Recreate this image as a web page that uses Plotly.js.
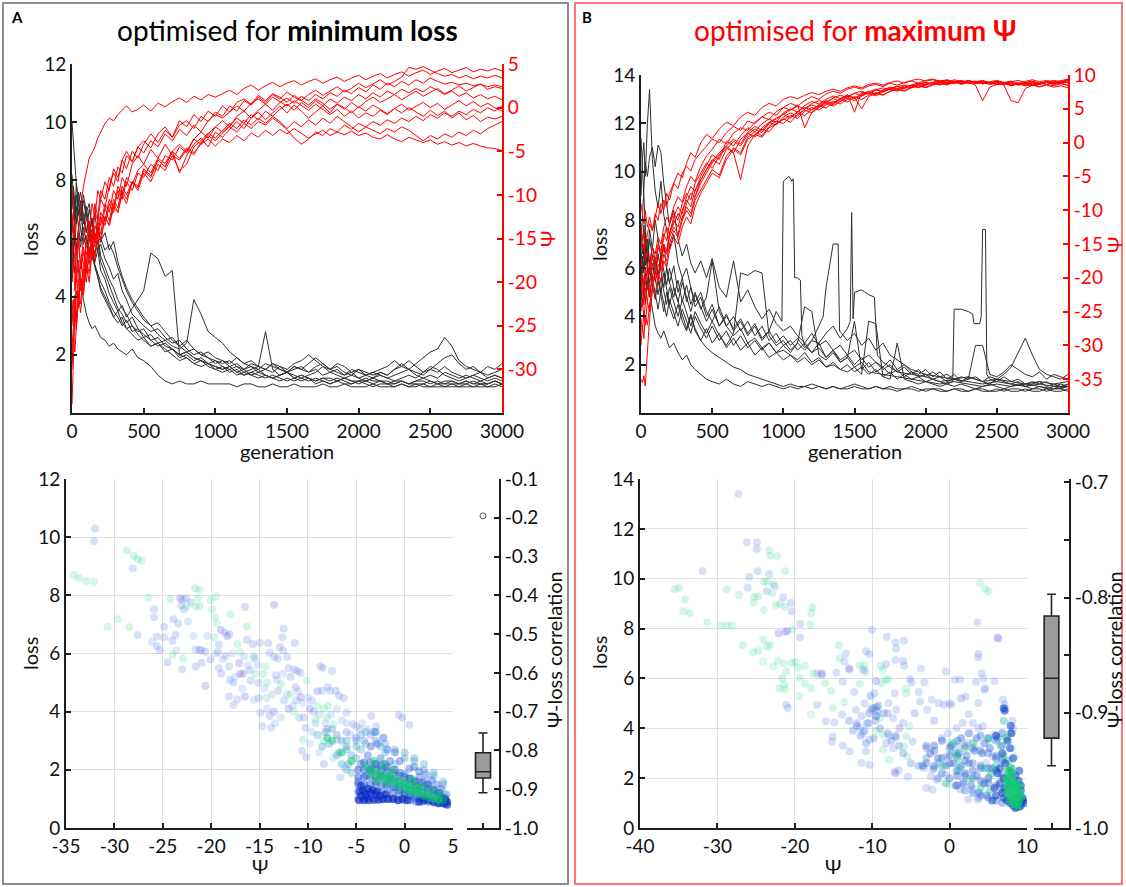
<!DOCTYPE html>
<html><head><meta charset="utf-8">
<script src="https://cdn.plot.ly/plotly-3.0.1.min.js"></script>
<style>html,body{margin:0;padding:0;background:#fff;}#chart{width:1126px;height:887px;}</style>
</head><body><div id="chart"></div>
<script>
// ---------------- DATA ----------------
const GEN = [0,10,20,30,45,60,80,100,120,140,160,180,200,230,260,290,320,350,380,420,460,500,550,600,650,700,750,800,850,900,950,1000,
 1050,1100,1150,1200,1250,1300,1350,1400,1450,1500,1550,1600,1650,1700,1750,1800,1850,1900,1950,2000,2050,2100,2150,2200,2250,2300,2350,2400,2450,2500,2550,2600,2650,2700,2750,2800,2850,2900,2950,3000];

// Panel A: loss per run (optimised for minimum loss)
const lossA1 = [10.0,9.2,8.5,7.9,7.2,7.6,6.8,6.2,6.6,5.8,5.5,5.9,5.2,4.8,4.4,4.0,3.6,3.4,3.1,3.3,2.9,2.7,2.5,2.6,2.3,2.2,2.0,2.1,1.9,1.8,1.7,1.6,
 1.5,1.6,1.4,1.3,1.4,1.3,1.2,1.3,1.2,1.1,1.2,1.1,1.2,1.0,1.1,1.0,1.1,1.0,1.0,1.1,1.0,0.9,1.0,1.0,0.9,1.0,0.9,1.0,0.9,0.9,1.0,0.9,0.9,0.9,1.0,0.9,0.9,0.9,1.0,0.9];
const lossA2 = [8.2,7.5,6.4,5.6,4.9,4.4,3.9,3.4,3.1,2.9,3.0,2.8,2.6,2.5,2.3,2.4,2.2,2.1,2.0,2.2,1.9,1.8,1.6,1.3,1.1,1.0,1.1,1.0,1.0,1.1,1.0,1.0,
 1.0,1.0,0.9,1.0,1.0,0.9,0.9,1.0,0.9,0.9,1.0,0.9,0.9,0.9,1.0,0.9,0.9,1.0,0.9,0.9,0.9,1.0,0.9,0.9,0.9,1.0,0.9,0.9,1.0,0.9,0.9,0.9,1.0,0.9,0.9,0.9,1.0,0.9,0.9,1.0];
const lossA3 = [6.2,6.8,7.4,6.9,7.6,7.1,6.5,6.9,6.2,5.7,5.2,5.6,4.9,4.6,4.1,3.8,3.5,3.7,3.3,3.6,3.9,4.2,5.5,5.3,4.7,4.9,2.0,1.9,1.7,1.8,1.6,1.5,
 1.6,1.4,1.5,1.3,1.4,1.5,1.3,1.2,1.3,1.4,1.2,1.3,1.2,1.1,1.2,1.2,1.1,1.2,1.1,1.1,1.2,1.1,1.1,1.0,1.1,1.1,1.0,1.1,1.1,1.0,1.1,1.0,1.1,1.0,1.0,1.1,1.0,1.0,1.1,1.0];
const lossA4 = [7.0,7.8,7.2,6.5,7.0,6.3,5.8,6.1,5.5,5.9,5.1,4.8,4.5,4.2,3.8,3.5,3.3,3.0,3.2,2.8,2.9,2.6,2.7,2.4,2.5,2.3,2.2,2.4,3.9,3.4,2.8,2.6,
 2.4,2.1,1.9,1.7,1.8,1.6,1.5,1.7,1.6,1.4,1.5,1.6,1.4,1.5,1.3,1.4,1.5,1.3,1.4,1.2,1.3,1.4,1.3,1.2,1.3,1.4,1.5,1.3,1.2,1.3,1.2,1.4,1.3,1.2,1.3,1.2,1.1,1.2,1.3,1.2];
const lossA5 = [5.5,6.2,5.8,6.6,7.3,6.8,7.5,6.9,7.2,6.4,6.8,6.0,5.4,5.0,4.6,4.3,3.9,3.6,3.4,3.0,2.8,2.9,2.5,2.3,2.4,2.2,2.0,2.1,1.9,1.8,1.7,1.8,
 1.6,1.5,1.6,1.4,1.5,1.6,2.8,1.5,1.3,1.4,1.2,1.3,1.2,1.1,1.2,1.1,1.2,1.1,1.0,1.1,1.1,1.0,1.1,1.0,1.0,1.1,1.0,1.0,1.0,1.1,1.0,1.0,1.0,1.0,1.1,1.0,1.0,1.0,1.1,1.0];
const lossA6 = [6.8,6.1,6.9,7.5,6.8,7.3,6.6,7.1,6.3,6.6,5.9,6.3,6.0,5.6,5.8,5.5,5.0,4.6,4.2,3.8,3.5,3.2,3.0,2.7,2.5,2.6,2.3,2.1,2.2,2.0,1.9,1.8,
 1.7,1.8,1.6,1.5,1.7,1.6,1.5,1.4,1.6,1.5,1.7,1.8,2.0,1.8,1.6,1.5,1.7,1.6,1.4,1.5,1.3,1.4,1.5,1.6,1.8,1.6,1.5,1.7,1.9,2.1,2.2,2.6,2.3,1.8,1.6,1.5,1.4,1.6,1.5,1.7];
const lossA7 = [4.5,5.3,6.1,5.6,6.4,5.9,6.7,6.2,7.0,6.5,6.1,5.6,5.8,5.3,5.0,4.6,4.8,4.2,3.9,3.4,3.2,3.0,2.8,2.9,2.6,2.4,2.5,2.2,2.0,2.1,1.9,1.7,
 1.8,1.6,1.7,1.5,1.6,1.4,1.5,1.7,1.5,1.4,1.6,1.5,1.7,1.9,1.7,1.5,1.6,1.4,1.3,1.5,1.4,1.3,1.4,1.3,1.5,1.6,1.8,1.6,1.4,1.5,1.7,1.9,2.0,1.7,1.5,1.6,1.4,1.3,1.4,1.5];
const lossA8 = [7.5,7.0,6.6,7.1,6.4,6.9,6.1,5.7,6.2,5.4,5.0,4.6,4.3,4.0,3.7,3.3,3.1,3.3,2.9,2.7,2.5,2.6,2.3,2.4,2.1,2.2,1.9,2.0,1.8,1.9,1.7,1.6,
 1.5,1.6,1.4,1.5,1.3,1.4,1.3,1.2,1.3,1.4,1.3,1.2,1.3,1.4,1.6,1.4,1.3,1.2,1.3,1.2,1.1,1.2,1.3,1.2,1.1,1.2,1.3,1.2,1.4,1.6,1.5,1.3,1.2,1.1,1.2,1.3,1.2,1.1,1.2,1.1];
const lossA9 = [5.0,5.8,6.5,7.9,7.2,6.6,7.3,6.8,6.2,6.7,6.0,6.4,5.9,6.2,5.6,5.9,5.2,4.7,4.3,3.9,3.6,3.3,3.0,3.1,2.8,2.5,2.3,2.5,2.2,2.0,2.1,1.9,
 1.8,1.7,1.9,1.7,1.6,1.5,1.7,1.6,1.5,1.4,1.6,1.5,1.4,1.6,1.7,1.5,1.4,1.3,1.5,1.4,1.3,1.2,1.4,1.3,1.5,1.7,1.5,1.4,1.3,1.5,1.4,1.6,1.4,1.3,1.2,1.3,1.4,1.2,1.3,1.2];
const lossA10 = [6.0,5.4,4.8,5.5,6.2,5.7,6.4,5.9,5.3,5.7,5.0,4.7,4.2,3.9,3.6,3.3,3.5,3.1,2.9,3.0,2.7,2.5,2.3,2.4,2.2,2.0,1.8,1.9,1.7,1.6,1.7,1.5,
 1.4,1.5,1.3,1.4,1.3,1.2,1.3,1.2,1.1,1.2,1.1,1.2,1.1,1.2,1.1,1.0,1.1,1.2,1.1,1.0,1.1,1.2,1.1,1.1,1.0,1.1,1.0,1.1,1.2,1.1,1.0,1.1,1.1,1.0,1.1,1.0,1.1,1.0,1.1,1.0];

// Panel A: Psi per run
const psiA1 = [-34.0,-29.0,-24.0,-19.0,-14.5,-11.5,-9.0,-7.2,-5.8,-5.2,-4.5,-3.5,-2.8,-1.8,-1.2,-1.5,-0.8,-0.3,0.2,-0.5,-0.2,0.3,-0.4,0.5,0.1,0.7,1.1,0.6,1.3,0.9,1.5,1.2,
 1.6,2.0,1.5,2.2,2.6,2.0,2.5,2.9,2.4,2.8,3.1,2.6,3.0,3.3,2.8,3.2,3.5,3.0,3.4,3.7,3.2,3.6,3.9,3.4,3.8,4.1,3.6,4.0,4.3,3.8,4.2,4.5,4.0,4.3,4.6,4.1,4.4,4.2,4.5,4.2];
const psiA2 = [-9.0,-12.0,-14.5,-17.0,-15.5,-18.5,-16.0,-19.0,-14.0,-15.5,-12.0,-13.0,-10.5,-11.5,-9.0,-7.5,-8.5,-6.0,-5.0,-6.2,-4.5,-3.8,-4.6,-3.0,-2.2,-3.4,-2.0,-1.5,-2.4,-1.0,-1.6,-0.5,
 -1.0,0.2,-0.4,0.8,0.3,1.2,0.6,1.5,1.0,1.8,1.2,0.8,1.5,2.0,1.4,1.9,2.4,1.8,2.2,2.8,2.3,2.7,3.2,2.6,3.0,3.5,4.6,4.4,4.7,4.3,3.9,3.6,3.8,3.4,3.7,3.3,3.6,3.4,3.7,3.4];
const psiA3 = [-20.0,-17.5,-21.0,-18.5,-22.0,-19.0,-16.5,-18.0,-15.0,-16.5,-13.5,-14.5,-12.0,-13.0,-10.5,-11.5,-9.0,-10.0,-8.0,-8.8,-7.2,-6.5,-7.5,-5.8,-6.4,-5.0,-5.8,-4.6,-5.2,-4.2,-3.6,-4.4,
 -3.6,-4.0,-3.2,-3.8,-2.9,-3.4,-2.6,-3.2,-2.5,-3.0,-2.4,-2.9,-3.5,-3.0,-2.6,-3.2,-2.8,-3.1,-2.7,-3.2,-2.9,-3.4,-3.6,-3.1,-3.6,-3.9,-3.4,-3.7,-4.0,-3.7,-4.2,-3.9,-4.3,-4.0,-4.4,-4.1,-4.4,-4.6,-4.7,-4.9];
const psiA4 = [-27.5,-25.0,-22.5,-24.0,-20.0,-17.5,-19.5,-15.5,-13.0,-14.5,-11.0,-12.5,-9.5,-10.5,-8.0,-9.0,-6.8,-7.5,-5.5,-6.2,-4.5,-5.2,-3.8,-4.5,-3.0,-3.8,-2.5,-3.2,-2.0,-2.8,-1.5,-0.8,
 -1.2,-0.5,0.2,-0.4,0.5,1.0,0.4,1.2,0.7,0.2,0.8,0.3,-0.3,0.4,-0.2,-0.8,-0.2,-1.0,-0.4,-1.2,-0.6,-1.0,-0.3,-0.8,-0.1,0.4,-0.3,0.2,0.6,0.0,0.5,-0.2,0.3,0.8,0.2,0.7,0.1,0.5,0.0,-0.4];
const psiA5 = [-15.0,-18.5,-16.5,-20.0,-17.5,-21.0,-18.0,-15.5,-17.0,-14.0,-15.5,-13.0,-14.5,-11.5,-13.0,-10.5,-11.5,-9.0,-10.0,-8.5,-9.2,-7.0,-7.8,-6.0,-6.8,-5.0,-7.5,-5.5,-4.2,-3.5,-4.5,-2.8,
 -3.4,-2.5,-1.6,-2.4,-1.2,-0.5,-1.4,-0.6,0.2,-0.6,0.3,-0.4,-1.2,-0.5,0.2,-0.6,0.4,-0.2,0.6,0.0,0.7,1.2,0.6,1.0,1.5,0.9,1.4,1.9,1.3,1.8,2.2,1.6,2.0,2.5,1.9,2.3,2.7,2.1,2.4,2.2];
const psiA6 = [-25.0,-22.0,-24.5,-21.0,-23.0,-19.5,-21.5,-18.0,-20.0,-16.5,-17.5,-14.5,-15.5,-12.5,-13.5,-11.0,-12.0,-9.5,-10.5,-8.5,-9.0,-7.2,-8.0,-6.0,-6.8,-5.0,-4.2,-5.0,-3.6,-2.8,-3.5,-2.2,
 -1.5,-2.2,-1.0,-0.4,-1.2,-0.3,0.4,-0.3,0.6,1.1,0.5,1.3,0.8,1.5,1.0,1.7,1.3,2.0,1.6,2.3,1.8,2.6,2.1,2.8,2.4,3.0,2.6,3.2,2.8,3.4,3.0,2.7,2.9,2.6,2.8,2.5,2.7,2.4,2.6,2.4];
const psiA7 = [-12.0,-15.0,-13.0,-17.0,-14.5,-18.0,-15.0,-12.5,-14.0,-11.0,-12.5,-9.5,-10.5,-8.5,-9.5,-7.0,-8.0,-6.0,-7.0,-5.0,-5.8,-4.2,-3.0,-4.0,-2.6,-3.4,-1.5,-2.2,-0.8,-1.6,-0.4,-1.0,
 0.2,-0.5,0.6,1.0,0.4,1.4,0.8,1.6,1.2,0.6,1.4,0.9,0.3,1.0,0.5,-0.2,0.4,0.0,-0.6,0.1,-0.4,0.3,-0.2,-0.7,-0.1,-0.6,0.0,-0.5,-1.0,-0.3,-0.9,-0.4,-1.2,-0.6,-1.4,-0.9,-1.6,-1.1,-1.3,-1.0];
const psiA8 = [-22.0,-24.5,-21.5,-25.0,-22.0,-19.5,-21.0,-17.5,-19.0,-16.0,-17.0,-14.0,-15.0,-12.5,-13.5,-11.5,-12.0,-10.0,-11.0,-8.5,-9.5,-7.5,-8.5,-6.5,-7.2,-5.5,-6.0,-4.8,-5.4,-4.0,-3.2,-3.8,
 -2.9,-2.2,-2.8,-1.8,-2.4,-1.6,-2.0,-1.2,-1.8,-2.5,-3.5,-4.2,-3.6,-2.8,-3.2,-2.4,-2.8,-2.0,-2.5,-1.8,-2.2,-1.6,-2.0,-1.4,-1.8,-1.2,-1.6,-1.0,-1.5,-0.8,-1.2,-0.6,-1.0,-0.4,-0.8,-0.2,-0.6,0.0,-0.4,0.2];
const psiA9 = [-29.0,-26.5,-28.0,-24.5,-21.0,-22.5,-18.5,-20.0,-16.0,-17.5,-14.5,-15.5,-12.5,-13.5,-11.0,-12.0,-9.5,-10.5,-8.5,-9.5,-7.5,-8.0,-6.5,-7.2,-5.5,-6.0,-4.5,-5.2,-3.6,-4.2,-3.0,-2.2,
 -2.8,-2.0,-1.2,-1.8,-0.8,-1.4,-0.4,-1.0,-0.2,0.4,-0.3,0.6,0.0,0.8,0.2,1.0,0.5,1.2,0.8,1.5,1.0,1.7,1.2,1.9,1.5,2.1,1.7,2.2,1.8,2.4,2.0,1.5,1.9,1.3,1.7,1.1,1.5,1.0,1.3,0.9];
const psiA10 = [-30.0,-27.0,-23.0,-25.5,-21.5,-23.5,-19.5,-16.5,-18.0,-14.5,-16.0,-12.5,-13.5,-11.0,-12.0,-9.5,-10.5,-8.0,-9.0,-6.5,-5.5,-6.5,-4.8,-5.8,-4.2,-5.5,-7.2,-6.5,-4.5,-3.8,-2.9,-3.5,
 -2.6,-1.8,-2.4,-1.4,-2.0,-1.2,-1.8,-1.0,-1.6,-2.4,-1.6,-2.2,-1.4,-2.0,-1.2,-1.8,-1.0,-1.6,-2.2,-2.8,-2.2,-2.6,-3.0,-2.4,-2.8,-2.2,-2.6,-3.2,-3.8,-3.2,-3.6,-3.0,-3.4,-2.8,-3.2,-2.6,-3.0,-2.4,-2.0,-1.6];

// Panel B: loss per run (optimised for maximum Psi)
const lossB1 = [9.0,10.5,11.2,9.8,12.0,13.4,10.5,9.2,8.5,9.6,8.2,7.6,6.8,7.4,6.2,5.6,6.0,5.2,4.6,5.0,4.2,3.8,4.4,3.6,3.2,3.5,2.9,3.1,2.7,2.9,2.5,2.6,
 2.4,2.2,2.5,2.1,2.3,1.9,2.0,1.8,1.7,1.9,1.6,3.8,3.7,1.5,1.4,2.9,1.4,1.3,1.2,1.3,1.2,1.1,1.2,1.1,1.2,1.1,1.0,1.1,1.2,1.1,1.0,1.1,1.2,1.1,1.0,1.1,1.0,1.1,1.0,1.1];
const lossB2 = [11.4,10.2,8.8,7.2,6.0,5.0,4.3,3.6,3.3,3.1,3.4,3.0,2.7,2.9,2.5,2.2,2.4,2.0,1.8,1.6,1.4,1.3,1.2,1.4,1.2,1.1,1.3,1.2,1.1,1.2,1.1,1.0,
 1.1,1.0,1.1,1.2,1.1,1.0,1.1,1.0,1.1,1.2,1.1,1.0,1.1,1.0,1.1,1.0,1.0,1.1,1.0,0.9,1.0,1.0,0.9,1.0,1.0,0.9,1.0,1.0,0.9,1.0,0.9,1.0,1.0,0.9,1.0,1.0,0.9,1.0,1.0,0.9];
const lossB3 = [7.0,8.2,9.5,10.4,9.8,10.6,11.0,10.2,11.1,10.8,9.5,8.6,7.8,8.4,7.2,6.5,7.0,6.2,5.8,6.3,5.6,6.4,5.2,4.8,6.3,4.6,5.1,4.4,3.9,4.3,3.7,3.4,
 3.6,3.2,2.9,3.3,2.8,3.0,2.6,2.8,2.4,2.6,2.2,2.4,2.1,1.9,2.2,1.8,2.0,1.7,1.6,1.8,1.5,1.7,1.4,1.6,1.3,1.4,1.5,1.3,1.2,1.4,1.3,1.2,1.3,1.1,1.2,1.3,1.1,1.2,1.1,1.2];
const genB4 = [0,10,20,30,45,60,80,100,120,140,160,180,200,230,260,290,320,350,380,420,460,500,550,600,650,700,750,800,850,900,950,
 990,1000,1020,1040,1060,1070,1080,1100,1120,1130,1150,1200,1250,1300,1350,1400,1450,1500,1550,1600,1700,1800,1900,2000,2100,2200,2300,2400,2500,2600,2700,2800,2900,3000];
const lossB4 = [5.5,6.4,5.8,7.0,6.2,7.6,6.8,8.0,7.2,6.4,7.0,6.0,5.4,6.1,5.0,5.6,4.6,5.2,4.4,4.8,4.0,4.5,3.6,4.1,3.4,3.8,3.2,3.6,3.0,3.4,4.2,
 3.8,9.6,9.7,9.8,9.6,9.7,5.6,5.6,5.5,3.2,2.8,2.5,2.9,2.3,2.6,2.1,2.3,1.9,2.1,1.7,1.6,1.5,1.4,1.3,1.2,1.3,1.2,1.1,1.2,1.1,1.2,1.1,1.0,1.1];
const genB5 = [0,10,20,30,45,60,80,100,120,140,160,180,200,230,260,290,320,350,380,420,460,500,550,600,650,700,750,800,850,900,950,1000,
 1050,1100,1150,1200,1250,1300,1350,1400,1450,1470,1480,1490,1500,1550,1600,1640,1660,1700,1750,1800,1900,2000,2100,2200,2300,2400,2500,2600,2700,2800,2900,3000];
const lossB5 = [6.2,7.0,6.4,7.5,6.8,6.1,6.9,6.3,5.7,6.5,5.9,5.3,6.0,5.2,4.6,5.4,4.8,4.2,4.9,4.4,3.8,4.3,3.6,4.0,3.5,3.9,3.3,3.7,3.1,3.4,2.9,3.2,
 2.8,3.1,2.7,3.0,2.9,3.3,3.6,3.1,3.5,3.8,8.3,3.9,5.0,5.1,4.9,4.8,2.4,2.1,1.9,1.7,1.6,1.5,1.3,1.4,1.3,1.2,1.3,1.2,1.1,1.2,1.1,1.1];
const genB6 = [0,10,20,30,45,60,80,100,120,140,160,180,200,230,260,290,320,350,380,420,460,500,550,600,650,700,750,800,850,900,950,1000,
 1050,1100,1150,1200,1250,1280,1300,1340,1350,1385,1395,1450,1500,1550,1600,1650,1700,1750,1800,1850,1900,2000,2100,2200,2300,2400,2500,2600,2700,2800,2900,3000];
const lossB6 = [5.0,4.4,5.2,4.6,5.5,4.8,5.6,4.9,4.3,5.1,4.5,4.0,4.7,4.1,3.6,4.3,3.8,3.3,4.0,3.5,3.1,3.6,3.0,3.4,2.8,3.2,2.7,3.0,2.6,2.9,2.5,2.8,
 2.5,2.9,2.6,3.0,3.6,4.0,5.2,6.8,7.0,7.0,3.4,3.0,3.3,2.8,3.1,2.6,2.9,2.4,2.2,2.0,1.8,1.6,1.5,1.4,1.5,1.3,1.4,1.3,1.2,1.3,1.2,1.3];
const genB7 = [0,10,20,30,45,60,80,100,120,140,160,180,200,230,260,290,320,350,380,420,460,500,550,600,650,700,750,800,850,900,950,1000,
 1050,1100,1150,1200,1250,1300,1350,1400,1450,1500,1550,1600,1650,1700,1750,1800,1850,1900,1950,2000,2050,2100,2150,
 2190,2200,2250,2300,2330,2340,2380,2390,2400,2420,2430,2450,2500,2550,2600,2650,2700,2750,2800,2850,2900,2950,3000];
const lossB7 = [4.8,5.6,4.9,5.8,5.1,6.0,5.3,4.7,5.5,4.8,4.2,5.0,4.4,3.9,4.5,3.8,3.4,4.0,3.5,3.0,3.5,2.9,3.3,2.7,3.1,2.6,2.9,2.4,2.7,2.3,2.5,2.2,
 2.4,2.1,2.3,2.0,2.2,1.9,2.1,1.8,2.0,1.7,1.9,1.6,1.8,1.5,1.7,1.4,1.6,1.4,1.5,1.3,1.4,1.3,1.2,
 1.3,4.3,4.3,4.2,4.1,3.7,3.7,4.0,7.6,7.6,1.6,1.4,1.3,1.5,1.3,1.4,1.2,1.3,1.2,1.3,1.1,1.2,1.1];
const lossB8 = [7.5,6.6,7.8,7.0,6.2,7.2,6.4,5.8,6.6,5.9,5.2,6.0,5.4,4.8,5.5,4.6,5.3,4.5,5.0,4.3,4.8,6.3,4.2,3.6,4.0,3.4,3.8,3.2,3.6,3.0,3.3,2.8,
 3.0,2.6,2.9,2.5,2.7,2.3,2.6,2.2,2.4,2.0,2.3,1.9,2.1,1.8,2.0,1.7,1.9,1.6,1.8,1.5,1.7,1.5,1.6,1.4,1.5,1.4,2.8,2.8,1.6,1.5,1.7,2.0,1.8,1.6,1.5,1.7,1.4,1.6,1.5,1.4];
const lossB9 = [5.8,6.5,5.9,6.8,6.0,5.4,6.2,5.5,4.9,5.6,5.0,4.5,5.2,4.6,4.0,4.7,4.1,3.6,4.2,3.7,3.3,3.8,3.2,2.8,3.3,5.8,5.7,5.9,5.8,3.2,2.8,3.0,
 2.6,2.9,4.4,4.2,2.4,2.2,2.5,2.1,2.3,3.8,1.8,2.1,1.7,1.9,1.6,1.8,1.5,1.7,1.5,1.6,1.4,1.5,1.3,1.4,1.3,1.5,1.4,1.3,1.5,1.4,1.6,1.9,2.5,3.1,2.4,1.8,1.6,1.5,1.4,1.6];
const lossB10 = [6.6,5.8,6.9,6.1,7.2,6.3,5.6,6.4,5.7,5.0,5.8,5.1,4.5,5.2,4.6,4.0,3.5,4.1,3.4,3.0,2.7,2.5,2.3,2.1,1.9,1.8,1.6,1.5,1.4,1.3,1.2,1.1,
 1.2,1.1,1.1,1.0,1.1,1.0,1.1,1.0,1.0,1.1,1.0,1.0,1.1,1.0,1.0,0.9,1.0,1.0,0.9,1.0,1.0,0.9,0.9,1.0,0.9,0.9,1.0,0.9,0.9,0.9,1.0,0.9,0.9,1.0,0.9,0.9,1.0,0.9,0.9,1.0];

// Panel B: Psi per run
const psiB1 = [-35.0,-35.5,-34.5,-36.0,-31.0,-26.0,-22.0,-19.0,-20.5,-17.5,-15.5,-16.5,-13.5,-12.0,-10.5,-11.5,-9.0,-7.5,-8.0,-5.5,-4.0,-2.8,-1.5,-0.5,0.5,-0.2,1.5,2.4,1.8,3.0,3.6,4.2,
 4.8,5.4,5.0,5.8,6.2,5.9,6.6,7.0,6.7,7.3,7.6,7.2,7.8,8.1,7.8,8.3,8.5,8.2,8.7,8.9,8.6,9.0,9.2,8.9,9.1,8.8,9.0,8.7,8.9,8.6,8.8,8.5,8.7,8.9,8.6,8.8,9.0,8.7,8.9,9.2];
const psiB2 = [-9.0,-10.5,-12.0,-10.0,-12.5,-11.0,-13.0,-11.0,-9.0,-10.5,-8.5,-9.5,-7.5,-6.0,-6.8,-4.5,-3.5,-4.2,-2.5,-1.5,-0.5,0.5,0.0,1.5,2.4,1.8,3.2,2.8,3.8,4.5,4.0,5.2,
 5.8,5.4,6.2,6.8,6.4,7.2,7.6,7.3,7.9,8.2,7.9,8.4,8.6,8.3,8.8,8.5,8.9,9.1,8.8,9.2,9.4,9.1,9.3,9.0,9.2,8.9,9.1,8.8,9.0,9.2,8.9,9.1,8.8,9.0,9.3,9.0,9.2,8.9,9.1,9.4];
const psiB3 = [-14.0,-16.0,-15.0,-17.5,-16.0,-18.5,-16.5,-17.5,-15.0,-16.0,-13.5,-14.5,-12.0,-10.5,-11.5,-9.0,-7.5,-8.5,-6.0,-4.5,-3.0,-3.8,-2.0,-0.8,-1.5,0.5,1.4,0.8,2.2,3.0,2.6,3.8,
 4.4,3.9,5.0,5.6,5.2,6.0,6.5,6.1,6.8,7.3,6.9,7.5,7.9,7.5,8.0,8.3,8.0,8.5,8.8,8.5,8.9,9.1,8.7,9.0,8.6,8.9,8.5,6.2,8.2,8.6,8.8,8.4,8.7,8.5,8.8,8.6,8.9,8.7,9.0,8.8];
const psiB4 = [-17.0,-19.0,-21.0,-18.5,-20.5,-18.0,-15.5,-16.5,-14.0,-15.0,-12.5,-11.0,-11.8,-9.5,-8.0,-8.8,-6.5,-5.0,-5.8,-3.5,-2.0,-1.0,0.5,-0.2,1.4,2.2,1.8,3.0,3.8,3.4,4.6,5.2,
 4.8,5.6,2.2,4.5,5.4,6.0,5.6,6.4,6.9,6.5,7.1,7.5,7.1,7.7,8.0,7.7,8.2,8.5,8.2,8.7,8.9,8.6,9.0,8.7,9.1,8.8,9.0,8.7,8.9,8.6,8.8,8.5,8.8,8.6,8.9,8.7,9.0,8.8,9.1,8.9];
const psiB5 = [-20.0,-22.0,-24.0,-21.5,-23.5,-21.0,-18.5,-19.5,-17.0,-18.0,-15.0,-16.0,-13.5,-11.5,-12.5,-10.0,-8.5,-9.5,-7.0,-5.5,-4.0,-2.5,-3.2,-1.0,0.2,-0.5,1.2,2.0,1.5,2.8,3.5,4.2,
 3.6,4.6,5.2,4.8,5.6,6.2,5.8,6.5,7.0,6.6,7.2,7.6,7.2,7.8,8.2,7.9,8.4,8.1,8.6,8.9,8.6,9.0,8.7,9.1,8.8,9.0,8.7,8.9,8.6,8.8,8.5,6.2,5.9,8.0,8.5,8.2,8.6,8.4,8.7,8.5];
const psiB6 = [-22.0,-19.5,-23.0,-20.5,-18.0,-19.5,-17.0,-18.5,-15.5,-16.5,-14.0,-12.5,-13.5,-11.0,-9.5,-10.5,-8.0,-6.5,-7.2,-5.0,-3.5,-1.8,-2.5,0.2,-0.5,1.0,2.2,1.6,2.8,3.5,3.0,4.4,
 5.0,4.5,5.5,6.1,5.7,6.4,6.9,6.5,7.1,4.5,7.5,7.2,7.8,7.5,8.0,8.3,8.0,8.5,8.8,8.5,8.9,9.2,8.9,9.3,9.0,9.2,8.9,9.1,8.8,9.0,8.7,8.9,8.6,8.8,9.0,8.7,8.9,9.1,8.8,9.3];
const psiB7 = [-26.0,-28.0,-25.0,-27.0,-23.5,-25.0,-21.5,-19.0,-20.5,-17.5,-15.5,-16.5,-14.0,-12.5,-13.5,-11.0,-9.5,-10.5,-8.0,-6.0,-4.5,-3.0,-1.8,-0.5,-1.5,-5.5,-0.5,1.2,2.0,1.6,2.8,3.4,
 4.0,3.6,4.6,5.2,4.8,5.6,6.1,5.7,6.4,6.8,6.4,7.0,7.4,7.1,7.6,8.0,7.7,8.2,8.5,8.2,8.6,8.9,8.6,9.0,8.7,9.1,8.8,9.0,8.7,8.9,8.6,8.8,8.5,8.7,8.4,8.6,8.9,8.6,8.8,8.4];
const psiB8 = [-30.0,-27.0,-29.0,-25.5,-27.0,-24.0,-21.5,-22.5,-19.5,-20.5,-17.5,-18.5,-16.0,-14.0,-15.0,-12.5,-11.0,-12.0,-9.5,-7.5,-6.0,-4.5,-5.2,-2.5,-1.0,-1.8,0.5,1.2,0.8,2.2,2.8,3.5,
 3.0,4.2,4.8,4.4,5.2,5.8,5.4,6.1,6.6,6.2,6.9,7.3,6.9,7.5,7.9,7.6,8.1,8.4,8.1,8.6,8.8,8.5,8.9,9.1,8.8,9.2,8.9,9.1,8.8,9.0,8.7,8.9,8.6,8.8,8.5,8.8,8.6,8.9,8.7,9.0];
const psiB9 = [-12.0,-14.5,-13.0,-15.5,-13.5,-12.0,-13.0,-10.5,-11.5,-9.0,-10.0,-7.5,-8.5,-6.0,-4.5,-5.2,-3.0,-1.5,-2.2,0.0,1.2,0.6,2.0,3.0,2.5,3.8,4.5,4.0,5.2,5.8,5.4,6.4,
 6.8,6.5,7.0,7.4,7.1,7.6,7.9,7.6,8.1,8.4,8.1,8.6,8.8,8.5,8.9,9.1,8.8,9.2,9.4,9.1,9.3,9.0,9.2,8.9,9.1,8.8,9.0,9.2,8.9,9.1,8.8,9.0,9.2,8.9,9.1,8.8,9.0,9.2,9.0,9.3];
const psiB10 = [-25.0,-23.0,-26.0,-23.5,-21.0,-22.5,-19.5,-20.5,-18.0,-19.0,-16.5,-17.5,-15.0,-13.0,-14.0,-11.5,-10.0,-11.0,-8.5,-7.0,-5.5,-4.0,-4.8,-2.0,-0.8,-1.5,0.8,1.6,1.0,2.4,3.2,2.8,
 3.8,4.4,4.0,4.9,5.5,5.1,5.9,6.4,6.0,6.7,5.0,6.8,7.3,7.0,7.6,7.9,7.6,8.1,8.4,8.1,8.5,8.8,8.5,8.9,9.1,8.8,9.0,8.7,8.9,8.6,8.8,8.5,8.7,8.4,8.6,8.3,8.5,8.2,8.4,8.1];

// Scatter A: [Psi, loss] samples grouped by colour
const ptsA_blue = [[-32.0,10.3],[-32.1,9.86],[-28.1,8.93],[-27.6,6.63],[-25.9,7.52],[-25.9,7.25],[-25.6,6.58],[-25.6,6.25],[-25.3,6.12],[-24.85,6.92],[-24.85,6.55],[-24.5,5.7],[-23.9,7.18],[-23.7,6.64],[-24.0,6.44],[-23.4,7.03],[-22.95,7.85],[-23.1,7.64],[-22.8,7.52],[-22.6,7.9],[-22.1,7.76],[-23.0,5.46],[-21.6,6.14],[-21.6,5.55],[-21.2,6.12],[-21.0,5.68],[-20.05,5.8],[-21.0,6.12],[-20.6,6.06],[-19.2,6.31],[-19.3,6.05],[-18.6,6.72],[-18.1,6.66],[-19.2,5.5],[-18.95,5.3],[-18.5,5.92],[-18.15,5.55],[-18.05,5.1],[-17.7,4.99],[-18.15,4.52],[-17.7,4.23],[-17.3,4.42],[-16.5,7.6],[-16.3,6.47],[-15.7,6.33],[-15.5,5.83],[-16.0,5.42],[-15.9,5.07],[-15.1,4.99],[-15.1,4.47],[-14.9,3.96],[-14.7,3.5],[-14.95,6.37],[-14.1,6.35],[-13.95,6.03],[-13.95,3.85],[-13.8,3.45],[-13.5,5.88],[-13.1,5.83],[-12.9,6.22],[-12.55,6.1],[-12.5,6.85],[-12.15,5.88],[-12.65,6.56],[-13.3,5.25],[-13.05,4.72],[-12.45,4.38],[-12.0,5.5],[-11.8,5.2],[-11.4,5.45],[-11.35,6.36],[-11.25,4.84],[-11.1,5.4],[-10.75,5.33],[-11.2,4.38],[-10.9,3.8],[-10.4,3.8],[-10.25,3.45],[-10.6,2.66],[-10.15,2.43],[-9.4,4.0],[-9.6,4.38],[-8.7,5.56],[-8.45,5.5],[-8.5,4.72],[-7.95,4.84],[-7.7,4.72],[-7.5,5.4],[-7.1,4.72],[-6.8,4.55],[-6.3,4.47],[-7.0,3.04],[-6.0,3.96],[-5.3,3.57],[-4.6,3.4],[-3.45,3.85],[-2.95,3.5],[-0.6,3.88],[-0.25,3.8],[0.5,3.55],[-8.35,2.2],[-6.65,1.74]];
const ptsA_extra = [[-19.5,6.0],[-18.8,5.8],[-17.5,5.2],[-16.8,4.8],[-16.2,5.6],[-15.2,5.6],[-14.5,4.8],[-13.7,4.6],[-13.2,5.1],[-12.6,5.3],[-12.2,4.6],[-11.6,4.2],[-11.0,4.7],[-10.5,4.3],[-10.0,4.5],[-9.6,3.3],[-9.2,3.6],[-8.8,3.9],[-8.2,3.6],[-7.6,3.9],[-7.0,4.1],[-6.5,3.7],[-6.0,3.6],[-5.6,3.2],[-5.0,3.5],[-4.4,3.6],[-3.8,3.4],[-12.8,3.8],[-13.4,3.6],[-14.2,4.1],[-15.6,4.4],[-16.6,5.9],[-17.8,6.0],[-20.4,6.6],[-21.8,6.6],[-22.4,7.1],[-23.6,6.1],[-26.1,6.4],[-9.8,2.9],[-8.8,2.6],[-7.4,2.4],[-6.2,2.1]];
const ptsA_green = [[-34.2,8.7],[-33.65,8.6],[-32.9,8.49],[-32.1,8.47],[-28.7,9.55],[-28.0,9.35],[-27.6,9.25],[-27.2,9.19],[-30.7,6.92],[-29.65,7.18],[-28.45,6.9],[-26.5,7.92],[-24.2,7.87],[-24.0,5.95],[-22.5,7.62],[-21.6,7.62],[-21.65,8.24],[-21.2,8.18],[-21.35,7.9],[-21.2,7.63],[-22.9,5.83],[-20.05,7.83],[-19.5,7.97],[-19.9,7.52],[-19.6,7.25],[-19.4,7.03],[-19.7,6.56],[-17.3,6.33],[-17.0,6.04],[-18.0,7.34],[-16.3,6.93],[-15.4,5.3],[-14.4,5.56],[-14.2,4.99],[-14.3,4.47],[-12.8,4.95],[-11.45,4.0],[-10.5,3.04],[-10.1,5.07],[-9.2,3.73],[-8.35,4.1],[-8.05,3.8],[-7.35,3.57],[-8.35,3.0],[-15.6,5.9],[-14.6,5.3],[-11.8,4.6],[-9.0,4.2],[-7.9,4.2]];
const ptsA_violet = [[-20.6,4.88],[-13.5,7.68],[-23.2,7.9],[-19.0,6.81],[-18.35,6.6],[-17.1,5.67],[-16.7,5.3],[-16.5,4.52],[-17.0,5.3],[-10.75,4.5],[-9.8,4.1],[-9.0,4.7],[-8.0,3.4],[-6.0,3.3],[-5.0,3.1],[-4.2,3.0],[-3.5,3.2],[-12.0,4.1],[-13.5,4.0]];
const coreA_tail = [[-5.5,2.5],[-6.0,2.8],[-6.5,3.0],[-7.0,3.2],[-7.5,3.4],[-5.0,3.0],[-4.5,2.7],[-5.8,2.2],[-6.8,2.6],[-7.8,2.9],[-8.2,3.3],[-4.0,3.3],[-3.0,3.0],[-2.0,2.9],[-1.0,2.7],[0.0,2.6],[1.0,2.4],[2.0,2.2],[3.0,1.9],[4.0,1.5],[-8.5,2.8],[-9.0,3.2]];
const coreA_fill = [[-4.8,1.0],[-4.8,1.25],[-4.8,1.5],[-4.8,1.75],[-4.8,2.0],
 [-4.2,1.0],[-4.2,1.25],[-4.2,1.5],[-4.2,1.75],[-4.2,2.0],[-4.2,2.25],
 [-3.6,1.0],[-3.6,1.25],[-3.6,1.5],[-3.6,1.75],[-3.6,2.0],[-3.6,2.25],
 [-3.0,1.0],[-3.0,1.25],[-3.0,1.5],[-3.0,1.75],[-3.0,2.0],[-3.0,2.2],
 [-2.4,1.0],[-2.4,1.25],[-2.4,1.5],[-2.4,1.75],[-2.4,2.0],[-2.4,2.15],
 [-1.8,1.0],[-1.8,1.2],[-1.8,1.45],[-1.8,1.7],[-1.8,1.95],[-1.8,2.1],
 [-1.2,1.0],[-1.2,1.2],[-1.2,1.4],[-1.2,1.65],[-1.2,1.9],
 [-0.6,0.95],[-0.6,1.15],[-0.6,1.4],[-0.6,1.6],[-0.6,1.8],
 [0.0,0.95],[0.0,1.15],[0.0,1.35],[0.0,1.55],[0.0,1.75],
 [0.6,0.95],[0.6,1.1],[0.6,1.3],[0.6,1.5],[0.6,1.7],
 [1.2,0.9],[1.2,1.1],[1.2,1.3],[1.2,1.45],[1.2,1.6],
 [1.8,0.9],[1.8,1.05],[1.8,1.25],[1.8,1.4],[1.8,1.55],
 [2.4,0.9],[2.4,1.05],[2.4,1.2],[2.4,1.35],[2.4,1.5],
 [3.0,0.88],[3.0,1.0],[3.0,1.15],[3.0,1.3],
 [3.6,0.85],[3.6,0.98],[3.6,1.1],[3.6,1.2],
 [4.2,0.82],[4.2,0.92],[4.2,1.02]];
const coreA_deep = [[-4.7,0.95],[-4.2,0.95],[-3.7,0.95],[-3.2,0.96],[-2.7,0.97],[-2.2,0.99],[-1.7,1.0],[-4.5,1.1],[-4.0,1.15],[-3.5,1.2],[-3.0,1.15],[-2.5,1.1],[-4.3,1.3],[-3.8,1.35],[-3.3,1.3],[-4.5,1.45],[-2.0,1.15],[-1.2,1.0],[-0.7,0.95],[-0.2,1.0],[0.3,0.95],[3.5,0.85],[4.0,0.85],[4.4,0.8],[3.0,0.9],[2.5,0.95],[4.2,0.95],[3.8,1.0],[4.4,0.9],[-4.6,1.25],[-3.9,1.05],[-2.8,1.25],[1.5,0.9],[2.0,0.95]];
const coreA_blue = [[-4.8,1.6],[-4.0,1.8],[-3.5,2.0],[-3.0,2.2],[-2.5,2.4],[-2.0,2.2],[-1.5,2.3],[-1.0,2.0],[-0.5,1.9],[0.0,1.85],[0.5,1.7],[1.0,1.6],[1.5,1.75],[2.0,1.6],[2.5,1.45],[3.0,1.3],[3.5,1.2],[4.0,1.05],[-3.0,1.6],[-2.5,1.8],[-2.0,1.5],[-1.5,1.7],[-1.0,1.4],[-0.5,1.3],[0.0,1.2],[0.5,1.15],[1.0,1.05],[1.5,1.0],[2.0,1.05],[-1.0,2.6],[-0.5,2.3],[0.5,2.05],[1.0,2.1],[1.5,1.95],[2.2,1.85],[2.8,1.65],[3.3,1.5],[3.8,1.35],[4.3,1.15],[-3.8,2.5],[-2.8,2.9],[-1.8,2.7],[-4.5,2.2],[-3.5,2.8],[-2.2,3.1],[-3.0,3.3]];
const coreA_green = [[-4.0,2.1],[-3.5,2.0],[-3.0,1.95],[-2.5,1.9],[-2.0,1.85],[-1.5,1.8],[-1.0,1.7],[-0.5,1.65],[0.0,1.55],[0.5,1.45],[1.0,1.4],[1.5,1.3],[2.0,1.2],[2.5,1.15],[3.0,1.05],[3.5,1.0],[4.0,0.95],[-0.8,1.45],[0.2,1.3],[1.2,1.2],[-1.8,1.55],[-2.8,1.6],[0.8,1.65],[1.8,1.45],[-3.2,2.3],[-2.2,2.2],[-1.2,2.0],[-6.5,2.6],[-7.5,3.0],[-8.0,3.1],[-5.5,2.3],[2.8,1.3],[3.6,1.15],
 [0.5,1.3],[1.0,1.25],[1.5,1.2],[0.0,1.4],[-0.5,1.5],[-1.0,1.55],[-1.5,1.65],[2.0,1.1],[2.5,1.05],[3.0,1.0],[3.5,0.95],[0.3,1.5],[1.3,1.4],[-2.0,1.7],[-2.5,1.75],[-3.0,1.8],[-3.5,1.85]];
const coreA_teal = [[-6.0,2.0],[-5.5,1.9],[-5.0,2.4],[-6.5,2.2],[-4.0,2.9],[-3.2,3.3],[-2.5,2.8],[-4.5,3.2],[-6.0,3.0],[-5.0,2.8],[-2.0,2.6],[0.0,2.4],[1.0,2.3],[2.0,2.0],[3.0,1.8],[4.0,1.6],[-1.0,2.2],[-7.0,2.5],[-6.0,2.7]];

// Scatter B
const ptsB_blue = [[-27.3,13.4],[-26.2,11.46],[-24.9,11.46],[-24.9,11.19],[-31.9,10.3],[-25.9,10.08],[-24.8,10.3],[-23.3,10.18],[-22.6,9.7],[-26.1,9.64],[-23.6,9.5],[-21.5,9.26],[-20.5,9.04],[-20.4,8.69],[-19.3,8.18],[-21.3,7.85],[-19.3,7.64],[-21.1,4.94],[-20.9,4.81],[-17.1,6.2],[-16.5,6.15],[-16.0,4.28],[-17.1,4.94],[-14.9,4.23],[-15.1,3.66],[-15.2,3.46],[-14.6,6.23],[-13.8,5.88],[-13.6,6.68],[-13.4,6.99],[-12.9,6.35],[-13.9,4.55],[-13.8,3.31],[-12.95,3.08],[-12.3,5.46],[-11.2,6.35],[-10.9,6.28],[-10.8,7.09],[-10.35,6.98],[-10.05,7.95],[-11.6,4.01],[-11.2,3.81],[-10.7,4.2],[-10.15,4.74],[-9.65,4.81],[-9.4,4.48],[-9.4,4.85],[-11.0,5.0],[-12.1,4.74],[-11.4,4.48],[-10.35,3.54],[-10.8,3.08],[-11.4,2.61],[-10.35,2.54],[-9.7,5.41],[-8.2,6.58],[-8.1,7.67],[-7.0,7.45],[-6.9,7.2],[-5.9,7.51],[-7.0,6.74],[-6.0,6.7],[-5.85,6.51],[-5.1,5.97],[-7.1,5.41],[-7.9,5.01],[-6.9,4.74],[-7.3,4.41],[-6.0,4.21],[-7.8,3.68],[-6.9,3.64],[-8.2,3.4],[-7.3,3.2],[-4.8,3.47],[-7.1,2.26],[-6.6,2.32],[-5.4,2.06],[-4.9,5.85],[-4.0,5.46],[-3.8,5.06],[-3.7,6.4],[-3.25,5.85],[-2.9,4.74],[-2.3,5.14],[-1.4,5.01],[-0.7,4.94],[-0.5,6.28],[0.0,5.0],[0.2,4.94],[0.7,5.95],[1.35,5.95],[2.1,5.28],[3.7,5.01],[4.1,6.21],[4.35,6.0],[4.6,5.61],[4.5,5.55],[3.6,8.24],[3.7,6.98],[3.7,6.85],[6.2,7.64],[5.8,5.9],[6.9,5.14],[7.1,4.95],[7.25,4.77],[8.1,4.3],[8.2,4.0],[5.8,3.74],[3.4,5.85],[2.5,4.55],[3.0,4.21],[3.7,4.01],[4.3,4.08],[1.7,4.21],[0.9,4.01],[-0.2,3.81],[1.1,3.27],[2.3,3.41],[-0.5,2.87],[-1.4,2.61],[-2.2,2.34],[-3.3,2.41],[-2.4,2.07],[-1.6,1.94],[-0.5,2.14],[1.7,1.87],[1.35,1.54],[2.4,1.14],[3.6,1.14],[3.8,1.2],[-3.0,1.6],[-2.2,1.54],[3.0,1.54],[4.3,1.8],[6.0,2.32],[4.7,2.61],[5.6,2.87],[6.9,2.74],[7.7,2.41]];
const ptsB_green = [[-23.3,11.14],[-23.2,10.92],[-22.3,10.9],[-21.25,10.3],[-24.0,9.9],[-23.6,9.88],[-22.8,9.8],[-22.9,9.42],[-35.5,9.58],[-34.9,9.64],[-34.2,9.17],[-34.4,8.68],[-33.6,8.62],[-31.3,8.24],[-29.6,8.12],[-28.8,8.12],[-28.1,8.11],[-28.8,9.57],[-27.2,9.35],[-25.25,9.28],[-25.3,9.04],[-24.7,9.3],[-24.0,8.74],[-22.4,8.94],[-21.9,9.0],[-21.3,8.87],[-17.7,8.85],[-17.9,8.62],[-20.3,7.97],[-18.0,8.15],[-26.7,7.33],[-25.4,7.05],[-24.7,7.11],[-24.1,7.55],[-23.6,7.28],[-23.2,7.35],[-24.1,6.68],[-22.2,6.71],[-22.8,6.48],[-21.4,6.6],[-21.1,6.28],[-21.6,6.01],[-21.4,5.75],[-22.0,5.61],[-21.3,5.57],[-20.4,6.62],[-19.9,6.66],[-19.6,6.43],[-19.4,6.03],[-19.4,5.3],[-18.7,5.79],[-17.9,5.61],[-18.7,6.5],[-17.9,4.55],[-17.6,6.2],[-16.1,5.81],[-15.3,5.5],[-15.1,4.81],[-14.3,7.33],[-14.2,6.82],[-13.6,5.04],[-11.6,5.79],[-11.6,6.53],[-11.0,6.53],[-8.8,5.81],[-8.3,5.95],[-7.9,5.95],[-8.6,6.35],[-8.9,6.51],[-5.6,5.6],[-5.6,5.41],[-5.2,4.08],[-8.6,3.74],[-5.6,3.68],[-8.6,3.14],[-5.9,3.27],[-5.45,2.87],[-7.8,2.74],[3.9,9.84],[4.6,9.6],[5.0,9.5],[5.1,3.47],[7.3,3.6],[8.1,3.2],[8.5,2.87],[0.0,3.41],[0.3,3.08],[3.4,3.27],[-0.1,1.74],[0.8,2.27],[5.1,2.06],[-9.5,3.9],[-9.0,4.4]];
const ptsB_violet = [[-22.1,7.81],[-21.0,7.9],[-16.5,6.2],[-13.0,6.4],[-9.5,5.9],[-6.5,4.0],[-4.5,4.6],[-2.0,4.3],[1.5,5.2],[-1.0,3.6],[-3.0,3.2],[6.3,7.6],[-7.0,2.2],[-12.0,4.2],[-8.0,4.6]];
const ptsB_mid = [[-10,4.8],[-9.5,4.5],[-10.5,4.2],[-9,4.0],[-11,3.9],[-12,4.1],[-8,3.8],[-9.8,3.6],[-10.8,3.4],[-11.5,3.7],[-12.5,3.9],[-13,4.3],[-9.2,4.9],[-10.2,5.3],[-8.5,4.6],[-7.5,3.5],[-6.5,3.3],[-6,3.0],[-5,2.6],[-4,2.5],[-3,2.8],[-2,2.4],[-1.5,2.0],[-9.6,4.3],[-9.4,4.7],[-10.4,4.6],[-7,3.7]];
const coreB_fill = [[0,2.0],[0,2.6],[0,3.2],[1,1.7],[1,2.3],[1,2.9],[1,3.5],[2,1.5],[2,2.1],[2,2.7],[2,3.3],[3,1.4],[3,2.0],[3,2.6],[3,3.2],
 [4,1.3],[4,1.9],[4,2.5],[4,3.1],[4,3.7],[5,1.2],[5,1.8],[5,2.4],[5,3.0],[5,3.6],[6,1.1],[6,1.7],[6,2.3],[6,2.9],[6,3.5],[6.8,1.0],[6.8,1.5],[6.8,2.1],[6.8,2.7],[6.8,3.3],
 [-1,2.2],[-1,2.8],[-2,2.5],[-2,3.1],[-3,2.6],[-3,3.3]];
const coreB_blue = [[6,2.8],[5.5,2.4],[5.0,2.0],[4.5,1.8],[4,2.4],[3.5,2.1],[3,2.3],[2.5,2.6],[2,2.2],[1.5,2.5],[1,2.1],[0.5,2.6],[0,2.9],[-0.5,2.5],[0.2,3.3],[1.2,3.0],[2.2,2.9],[3.2,3.1],[4.2,3.0],[5.2,3.2],[6.2,3.6],[6.8,3.8],[2.8,1.7],[3.8,1.4],[4.8,1.3],[1.8,1.8],[0.8,1.7],[-1.5,2.8],[-2.5,3.0],[-3.5,2.5],[1.5,3.6],[2.5,3.8],[3.5,3.6],[4.5,3.4],[-1,3.5],[-2,3.3]];
const coreB_teal = [[0.5,3.4],[0.8,3.0],[1.0,2.8],[1.3,2.4],[2.6,2.0],[4.6,2.4],[5.4,2.2],[6.0,2.5],[7.0,2.9],[6.6,3.3],[7.3,3.6],[7.6,2.7],[5.0,3.6],[3.0,3.4],[-1,2.5],[-0.5,1.8],[4.0,1.6],[5.2,1.5],[7.8,3.8],[7.0,4.3],[2.0,3.2]];
const coreB_deep = [[9.3,1.05],[9.4,1.2],[9.2,0.9],[9.0,0.85],[8.6,0.85],[8.2,0.9],[7.8,1.0],[7.4,1.1],[7.0,1.2],[6.8,1.4],[7.1,1.6],[9.2,1.5],[8.9,1.9],[8.5,2.1],[9.0,2.3],[6.5,1.8],[7.0,2.0],[6.5,2.4],[7.2,2.6],[6.2,2.2],[5.8,1.6],[6.0,1.3],[5.5,1.1],[8.2,2.8],[7.8,3.2],[6.8,3.0],[7.5,3.5],
 [9.5,1.1],[9.6,1.0],[9.2,1.7],[8.5,0.8],[7.9,4.1],[8.0,3.8],[7.1,4.7],[7.0,4.8],[6.0,3.7]];
const coreB_green = [[7.5,2.3],[7.8,2.1],[8.0,2.0],[8.2,1.85],[7.7,1.8],[8.0,1.6],[8.4,1.5],[8.6,1.35],[8.8,1.2],[9.0,1.05],[8.7,1.0],[8.4,0.95],[8.2,1.15],[7.9,1.3],[8.3,1.75],[8.8,1.6],[9.1,1.3],[7.6,1.55],[8.0,2.4],[7.4,1.9],[8.5,1.1],[8.9,0.9],
 [7.4,1.4],[7.4,1.7],[7.4,2.0],[7.8,1.1],[7.8,1.4],[7.8,1.7],[7.8,2.3],[8.2,1.0],[8.2,1.3],[8.2,1.6],[8.2,2.2],[8.6,0.9],[8.6,1.2],[8.6,1.8],[9.0,1.4],[9.0,1.7],[9.3,1.25]];

// Psi-loss correlation across runs: [lowerfence, q1, median, q3, upperfence]
const corrA_stats = [-0.909, -0.871, -0.855, -0.806, -0.755];
const corrA_outliers = [-0.195];
const corrB_stats = [-0.946, -0.922, -0.870, -0.816, -0.797];

// ---------------- CHART ----------------
const F = 'Lato, "Open Sans", sans-serif';
const W = 1126, H = 887;
const px = v => v / W, py = v => 1 - v / H;
const INK = '#1e1e1e', RED = '#ff0000';
const TICK = 19, LAB = 20;

function axis(extra) {
  return Object.assign({
    showline: true, linecolor: INK, linewidth: 2, mirror: false,
    ticks: 'inside', ticklen: 5, tickwidth: 2, tickcolor: INK,
    tickfont: {family: F, size: TICK, color: '#111'},
    showgrid: false, zeroline: false, fixedrange: true, automargin: false
  }, extra);
}
const tv = (vals, dec) => ({tickmode: 'array', tickvals: vals, ticktext: vals.map(v => dec ? v.toFixed(dec) : String(v))});
const GRID = {showgrid: true, gridcolor: '#e0e0e0', gridwidth: 1};

const traces = [];
function lines(xs, ys, xa, ya, color) {
  traces.push({type: 'scatter', mode: 'lines', x: xs, y: ys, xaxis: xa, yaxis: ya,
    line: {color: color, width: 1}, hoverinfo: 'skip', showlegend: false});
}
const DARK = '#2f2f2f';
[lossA1, lossA2, lossA3, lossA4, lossA5, lossA6, lossA7, lossA8, lossA9, lossA10].forEach(l => lines(GEN, l, 'x', 'y', DARK));
[psiA1, psiA2, psiA3, psiA4, psiA5, psiA6, psiA7, psiA8, psiA9, psiA10].forEach(l => lines(GEN, l, 'x', 'y2', RED));
lines(GEN, lossB1, 'x4', 'y5', DARK);
lines(GEN, lossB2, 'x4', 'y5', DARK);
lines(GEN, lossB3, 'x4', 'y5', DARK);
lines(genB4, lossB4, 'x4', 'y5', DARK);
lines(genB5, lossB5, 'x4', 'y5', DARK);
lines(genB6, lossB6, 'x4', 'y5', DARK);
lines(genB7, lossB7, 'x4', 'y5', DARK);
lines(GEN, lossB8, 'x4', 'y5', DARK);
lines(GEN, lossB9, 'x4', 'y5', DARK);
lines(GEN, lossB10, 'x4', 'y5', DARK);
[psiB1, psiB2, psiB3, psiB4, psiB5, psiB6, psiB7, psiB8, psiB9, psiB10].forEach(l => lines(GEN, l, 'x4', 'y6', RED));

function pts(arr, xa, ya, color, op) {
  traces.push({type: 'scatter', mode: 'markers', x: arr.map(p => p[0]), y: arr.map(p => p[1]), xaxis: xa, yaxis: ya,
    marker: {size: 8, color: color, opacity: op, line: {width: 0}}, hoverinfo: 'skip', showlegend: false});
}
pts(ptsA_blue, 'x2', 'y3', '#3a66e0', 0.2);
pts(ptsA_extra, 'x2', 'y3', '#3f78dc', 0.16);
pts(ptsA_green, 'x2', 'y3', '#22d08a', 0.2);
pts(ptsA_violet, 'x2', 'y3', '#5a55e6', 0.25);
pts(coreA_tail, 'x2', 'y3', '#2a8ccc', 0.3);
pts(coreA_teal, 'x2', 'y3', '#1f9fc0', 0.3);
pts(coreA_fill, 'x2', 'y3', '#1f55d2', 0.45);
pts(coreA_blue, 'x2', 'y3', '#1d58d6', 0.38);
pts(coreA_deep, 'x2', 'y3', '#0a28c4', 0.6);
pts(coreA_green, 'x2', 'y3', '#12c474', 0.5);

pts(ptsB_blue, 'x5', 'y7', '#3a66e0', 0.2);
pts(ptsB_green, 'x5', 'y7', '#22d08a', 0.2);
pts(ptsB_violet, 'x5', 'y7', '#5a55e6', 0.25);
pts(ptsB_mid, 'x5', 'y7', '#2a70d0', 0.28);
pts(coreB_fill, 'x5', 'y7', '#2a66d4', 0.36);
pts(coreB_blue, 'x5', 'y7', '#1d58d6', 0.38);
pts(coreB_teal, 'x5', 'y7', '#18b890', 0.38);
pts(coreB_deep, 'x5', 'y7', '#0a40c8', 0.55);
pts(coreB_green, 'x5', 'y7', '#12c474', 0.6);

function box(stats, xa, ya, w) {
  traces.push({type: 'box', x: [0], lowerfence: [stats[0]], q1: [stats[1]], median: [stats[2]], q3: [stats[3]], upperfence: [stats[4]],
    xaxis: xa, yaxis: ya, fillcolor: '#9b9b9b', line: {color: '#222', width: 1.6}, width: w, whiskerwidth: 0.6,
    boxpoints: false, hoverinfo: 'skip', showlegend: false});
}
box(corrA_stats, 'x3', 'y4', 0.47);
traces.push({type: 'scatter', mode: 'markers', x: corrA_outliers.map(() => 0), y: corrA_outliers, xaxis: 'x3', yaxis: 'y4',
  marker: {symbol: 'circle-open', size: 6, color: '#555', line: {width: 1}}, hoverinfo: 'skip', showlegend: false});
box(corrB_stats, 'x6', 'y8', 0.42);

const redAx = {linecolor: RED, tickcolor: RED, tickfont: {family: F, size: TICK, color: RED}};
const layout = {
  width: W, height: H, margin: {l: 0, r: 0, t: 0, b: 0}, paper_bgcolor: '#fff', plot_bgcolor: 'rgba(0,0,0,0)',
  showlegend: false, font: {family: F, color: '#111'},
  xaxis: axis(Object.assign({domain: [px(72), px(502)], range: [0, 3000], anchor: 'y'}, tv([0,500,1000,1500,2000,2500,3000]))),
  yaxis: axis(Object.assign({domain: [py(413), py(64)], range: [0, 12], anchor: 'x'}, tv([2,4,6,8,10,12]))),
  yaxis2: axis(Object.assign({overlaying: 'y', side: 'right', anchor: 'x', range: [-35, 5]}, redAx, tv([-30,-25,-20,-15,-10,-5,0,5]))),
  xaxis2: axis(Object.assign({domain: [px(66), px(453)], range: [-35, 5], anchor: 'y3'}, GRID, tv([-35,-30,-25,-20,-15,-10,-5,0,5]))),
  yaxis3: axis(Object.assign({domain: [py(828), py(479)], range: [0, 12], anchor: 'x2'}, GRID, tv([0,2,4,6,8,10,12]))),
  xaxis3: axis({domain: [px(467), px(499)], range: [-0.5, 0.5], anchor: 'y4', tickmode: 'array', tickvals: [0], ticktext: ['']}),
  yaxis4: axis(Object.assign({domain: [py(828), py(479)], range: [-1.0, -0.1], anchor: 'x3', side: 'right'}, tv([-1.0,-0.9,-0.8,-0.7,-0.6,-0.5,-0.4,-0.3,-0.2,-0.1], 1))),
  xaxis4: axis(Object.assign({domain: [px(641), px(1068)], range: [0, 3000], anchor: 'y5'}, tv([0,500,1000,1500,2000,2500,3000]))),
  yaxis5: axis(Object.assign({domain: [py(413), py(75)], range: [0, 14], anchor: 'x4'}, tv([2,4,6,8,10,12,14]))),
  yaxis6: axis(Object.assign({overlaying: 'y5', side: 'right', anchor: 'x4', range: [-40, 10]}, redAx, tv([-35,-30,-25,-20,-15,-10,-5,0,5,10]))),
  xaxis5: axis(Object.assign({domain: [px(640), px(1027)], range: [-40, 10], anchor: 'y7'}, GRID, tv([-40,-30,-20,-10,0,10]))),
  yaxis7: axis(Object.assign({domain: [py(828), py(479)], range: [0, 14], anchor: 'x5'}, GRID, tv([0,2,4,6,8,10,12,14]))),
  xaxis6: axis({domain: [px(1034), px(1069)], range: [-0.5, 0.5], anchor: 'y8', tickmode: 'array', tickvals: [0], ticktext: ['']}),
  yaxis8: axis({domain: [py(828), py(479)], range: [-1.0, -0.697], anchor: 'x6', side: 'right', tickmode: 'array',
    tickvals: [-1.0,-0.95,-0.9,-0.85,-0.8,-0.75,-0.7], ticktext: ['-1.0','','-0.9','','-0.8','','-0.7']}),
  shapes: [
    {type: 'rect', xref: 'paper', yref: 'paper', x0: px(3), x1: px(568), y0: py(884), y1: py(3), line: {color: '#8c8c8c', width: 2}},
    {type: 'rect', xref: 'paper', yref: 'paper', x0: px(575), x1: px(1122), y0: py(884), y1: py(3), line: {color: '#ff7373', width: 2}}
  ],
  annotations: []
};
function ann(text, x, y, opts) {
  layout.annotations.push(Object.assign({text: text, x: px(x), y: py(y), xref: 'paper', yref: 'paper', showarrow: false,
    xanchor: 'center', yanchor: 'middle', font: {family: F, size: LAB, color: '#111'}}, opts || {}));
}
ann('<b>A</b>', 17, 17, {font: {family: F, size: 15, color: '#000'}});
ann('<b>B</b>', 587, 17, {font: {family: F, size: 15, color: '#000'}});
ann('optimised for <b>minimum loss</b>', 287, 30, {font: {family: F, size: 28, color: '#000'}});
ann('optimised for <b>maximum Ψ</b>', 855, 30, {font: {family: F, size: 28, color: RED}});
ann('loss', 30, 239, {textangle: -90});
ann('generation', 287, 451);
ann('Ψ', 547, 239, {textangle: -90, font: {family: F, size: LAB, color: RED}});
ann('loss', 30, 653, {textangle: -90});
ann('Ψ', 260, 866);
ann('Ψ-loss correlation', 554, 650, {textangle: -90});
ann('loss', 599, 245, {textangle: -90});
ann('generation', 855, 451);
ann('Ψ', 1114, 245, {textangle: -90, font: {family: F, size: LAB, color: RED}});
ann('loss', 599, 653, {textangle: -90});
ann('Ψ', 833, 866);
ann('Ψ-loss correlation', 1114, 650, {textangle: -90});

Plotly.newPlot('chart', traces, layout, {staticPlot: true, displayModeBar: false});
</script></body></html>
